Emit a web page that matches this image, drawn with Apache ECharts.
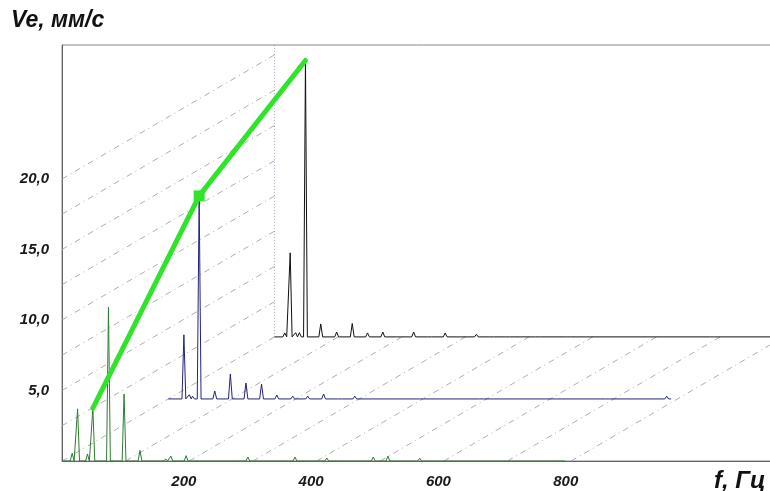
<!DOCTYPE html>
<html>
<head>
<meta charset="utf-8">
<script src="https://cdn.jsdelivr.net/npm/echarts@6/dist/echarts.min.js"></script>
<style>
  html, body { margin: 0; padding: 0; background: #fff; }
  #chart { width: 770px; height: 491px; }
</style>
</head>
<body>
<div id="chart"></div>
<script>
// spectrum peaks, Hz / mm/s (front = green, middle = blue, back = black)
var greenFreq = [16, 24.5, 40, 48.5, 73, 97.5, 122.5, 163, 171, 195, 243, 292, 319, 342, 366, 393, 416, 440, 465, 489, 512, 537, 562, 588, 635, 759];
var greenAmp  = [0.55, 3.7, 0.5, 3.75, 10.9, 4.75, 0.75, 0.15, 0.35, 0.38, 0.07, 0.28, 0.07, 0.14, 0.28, 0.14, 0.21, 0.14, 0.1, 0.28, 0.35, 0.1, 0.2, 0.1, 0.1, 0.07];

var blueFreq = [24.5, 33, 38, 48.5, 73, 97.5, 122, 146.5, 170.5, 195.5, 219, 244, 269, 293, 398, 492, 590, 690, 783];
var blueAmp  = [4.55, 0.3, 0.2, 14.4, 0.57, 1.77, 1.13, 1.06, 0.28, 0.2, 0.2, 0.35, 0.14, 0.2, 0.14, 0.14, 0.14, 0.14, 0.2];

var blackFreq = [16, 24.5, 33, 39, 48.5, 72.5, 97.5, 122, 146, 170, 195, 218.5, 243.5, 268, 293, 317, 341, 366, 413, 462, 491, 688];
var blackAmp  = [0.28, 5.96, 0.3, 0.3, 19.6, 0.92, 0.35, 0.95, 0.28, 0.35, 0.14, 0.35, 0.14, 0.28, 0.07, 0.18, 0.1, 0.07, 0.07, 0.07, 0.07, 0.07];

var trendFreq = 48.5;           // component tracked by the green line
var specEnd = 790;              // last frequency of each spectrum
var stepF = 167, stepV = 4.4;   // waterfall shift per spectrum
var peakHalf = 3;

var valueGrid = [0, 2.5, 5, 7.5, 10, 12.5, 15, 17.5, 20];
var freqGrid = [100, 200, 300, 400, 500, 600, 700, 800];
var yTicks = [5, 10, 15, 20];
var xTicks = [200, 400, 600, 800];

function spectrum(freq, amp, k){
	var oF = k * stepF, oV = k * stepV;
	var pts = [[oF, oV]];
	for(var i = 0; i < freq.length; i++){
		pts.push([freq[i] - peakHalf + oF, oV]);
		pts.push([freq[i] + oF, amp[i] + oV]);
		pts.push([freq[i] + peakHalf + oF, oV]);
	}
	pts.push([specEnd + oF, oV]);
	return pts;
}

var diag = [];
valueGrid.forEach(function(v){
	diag.push({coords: [[0, v], [2 * stepF, v + 2 * stepV]]});
});
freqGrid.forEach(function(f){
	diag.push({coords: [[f, 0], [f + 2 * stepF, 2 * stepV]]});
});

var trend = [
	[trendFreq, greenAmp[greenFreq.indexOf(trendFreq)]],
	[trendFreq + stepF, blueAmp[blueFreq.indexOf(trendFreq)] + stepV],
	[trendFreq + 2 * stepF, blackAmp[blackFreq.indexOf(trendFreq)] + 2 * stepV]
];

var labelFont = {fontFamily: 'Liberation Sans, Arial, sans-serif', fontWeight: 'bold', fontStyle: 'italic', fontSize: 15, color: '#1a1a1a'};

var chart = echarts.init(document.getElementById('chart'));
chart.setOption({
	animation: false,
	backgroundColor: '#fff',
	grid: {left: 62, top: 45, width: 712, height: 416, show: true, borderColor: '#888', borderWidth: 1, outerBoundsMode: 'none', containLabel: false},
	xAxis: {
		type: 'value', min: 0, max: 1118.6, interval: 200,
		splitLine: {show: false}, axisTick: {show: false},
		axisLine: {lineStyle: {color: '#666'}},
		axisLabel: Object.assign({
			margin: 13, padding: [0, 11, 0, 0], showMaxLabel: false,
			formatter: function(v){ return xTicks.indexOf(v) >= 0 ? String(v) : ''; }
		}, labelFont)
	},
	yAxis: {
		type: 'value', min: 0, max: 29.5, interval: 5,
		splitLine: {show: false}, axisTick: {show: false},
		axisLine: {show: true, lineStyle: {color: '#666'}},
		axisLabel: Object.assign({
			margin: 13, showMaxLabel: false,
			formatter: function(v){ return yTicks.indexOf(v) >= 0 ? v.toFixed(1).replace('.', ',') : ''; }
		}, labelFont)
	},
	graphic: [
		{type: 'text', left: 11, top: 9, style: {text: 'Ve, мм/с', font: 'italic bold 23px "Liberation Sans", Arial, sans-serif', fill: '#111'}},
		{type: 'text', left: 714, top: 469, style: {text: 'f, Гц', font: 'italic bold 24px "Liberation Sans", Arial, sans-serif', fill: '#111'}}
	],
	series: [
		{
			type: 'lines', coordinateSystem: 'cartesian2d', z: 1, silent: true,
			lineStyle: {color: '#9a9a9a', width: 1, type: [6, 4, 1, 4], opacity: 0.8},
			data: diag
		},
		{
			type: 'lines', coordinateSystem: 'cartesian2d', z: 1, silent: true,
			lineStyle: {color: '#5a5aa8', width: 1, type: [1, 2]},
			data: [{coords: [[2 * stepF, 2 * stepV], [2 * stepF, 29.5]]}]
		},
		{
			type: 'line', z: 3, showSymbol: false, silent: true,
			lineStyle: {color: '#111111', width: 1},
			data: spectrum(blackFreq, blackAmp, 2)
		},
		{
			type: 'line', z: 3, showSymbol: false, silent: true,
			lineStyle: {color: '#23237e', width: 1},
			data: spectrum(blueFreq, blueAmp, 1)
		},
		{
			type: 'line', z: 3, showSymbol: false, silent: true,
			lineStyle: {color: '#2e7d32', width: 1},
			data: spectrum(greenFreq, greenAmp, 0)
		},
		{
			type: 'line', z: 5, silent: true,
			symbol: 'rect',
			symbolSize: function(val, params){ return params.dataIndex === 1 ? 11 : 0; },
			itemStyle: {color: '#2fe42a'},
			lineStyle: {color: '#2fe42a', width: 5, cap: 'round'},
			data: trend
		}
	]
});
</script>
</body>
</html>
